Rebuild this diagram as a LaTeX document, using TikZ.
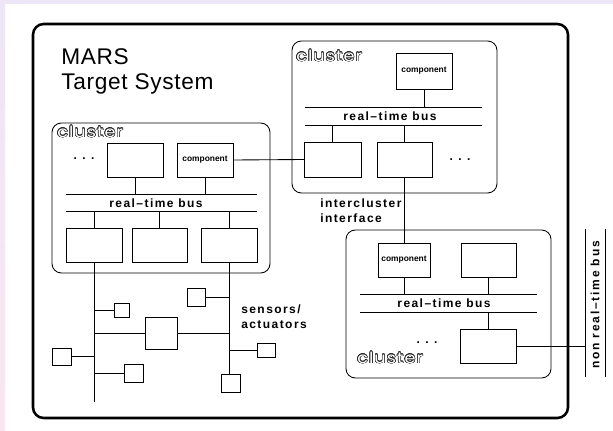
\documentclass[tikz,border=0pt]{standalone}
\usepackage{fontspec}
\setmainfont{Liberation Sans}
\newfontfamily\clfont{Poppins}
\usepackage{graphicx}
\usepackage[copies]{contour}
\contourlength{0.4pt}
\definecolor{lav}{HTML}{ECE6F6}
\definecolor{pnk}{HTML}{FAE6EE}
\tikzset{
  bx/.style n args={2}{draw, line width=0.65pt, minimum width=#1*0.75pt, minimum height=#2*0.75pt, inner sep=0pt, outer sep=0pt},
  ln/.style={line width=0.65pt},
  lbl/.style={font=\fontsize{9}{11}\selectfont\bfseries\addfontfeatures{LetterSpace=12}, inner sep=0pt},
  comp/.style={font=\fontsize{6.3}{7}\selectfont\bfseries},
  dots/.style={font=\fontsize{9}{10}\selectfont\bfseries\addfontfeatures{LetterSpace=45}, inner sep=0pt},
  clus/.style={font=\clfont\fontsize{11.5}{13}\selectfont, inner sep=0pt},
  clrect/.style={draw, line width=0.65pt, rounded corners=7pt},
}
\newcommand{\clustertext}{\scalebox{1.15}[1]{\addfontfeatures{LetterSpace=6}\contour{black!85}{\textcolor{white}{cluster}}}}
\begin{document}
\begin{tikzpicture}[x=0.75pt, y=-0.75pt]
\useasboundingbox (0,0) rectangle (613,431);
% page background margins
\fill[white] (0,0) rectangle (613,431);
\shade[top color=lav, bottom color=pnk] (0,0) rectangle (5,431);
\fill[lav] (0,0) rectangle (613,4);
% outer frame
\draw[line width=1.9pt, rounded corners=8pt] (33,24) rectangle (568,418);
\node[anchor=base west, font=\fontsize{17}{20}\selectfont\addfontfeatures{LetterSpace=3}, inner sep=0pt] (mars) at (61,65) {MARS};
\node[anchor=base west, font=\fontsize{17}{20}\selectfont\addfontfeatures{LetterSpace=3}, inner sep=0pt] (tsys) at (61,90) {Target System};

% ---------------- left cluster
\draw[clrect] (52,123) rectangle (270,273);
\node[clus, anchor=west] (cl1) at (57,132) {\clustertext};
\node[dots] (ld) at (84,159) {...};
\node[bx={56}{34}] (LA) at (135,160) {};
\node[bx={56}{34}, comp] (LC) at (205,160) {component};
\coordinate (l1w) at (66,194); \coordinate (l1e) at (257,194);
\coordinate (l2w) at (66,211); \coordinate (l2e) at (257,211);
\draw[ln] (l1w) -- (l1e);
\draw[ln] (l2w) -- (l2e);
\node[lbl] (lbus) at (156,203) {real--time bus};
\node[bx={56}{34}] (LB1) at (94,245) {};
\node[bx={55}{34}] (LB2) at (159.5,245) {};
\node[bx={56}{34}] (LB3) at (229,245) {};
\draw[ln] (LA.south) -- (LA.south |- l1w);
\draw[ln] (LC.south) -- (LC.south |- l1w);
\draw[ln] (LB1.north) -- (LB1.north |- l2w);
\draw[ln] (LB2.north) -- (LB2.north |- l2w);
\draw[ln] (LB3.north) -- (LB3.north |- l2w);

% ---------------- top cluster
\draw[clrect] (292,41) rectangle (497,193);
\node[clus, anchor=west] (cl2) at (296,56) {\clustertext};
\node[bx={56}{36}, comp] (TC) at (424,71) {component};
\coordinate (t1w) at (305,107); \coordinate (t1e) at (482,107);
\coordinate (t2w) at (305,125); \coordinate (t2e) at (482,125);
\draw[ln] (t1w) -- (t1e);
\draw[ln] (t2w) -- (t2e);
\node[lbl] (tbus) at (390,116) {real--time bus};
\node[bx={57}{35}] (T1) at (332.5,159.5) {};
\node[bx={55}{35}] (T2) at (404.5,159.5) {};
\node[dots] (td) at (460,160) {...};
\draw[ln] (TC.south) -- (TC.south |- t1w);
\draw[ln] (T1.north) -- (T1.north |- t2w);
\draw[ln] (T2.north) -- (T2.north |- t2w);
\draw[ln] (LC.east) -- (T1.west);

% ---------------- bottom cluster
\draw[clrect] (346,230) rectangle (551,378);
\node[bx={52}{34}, comp] (BC) at (404,260) {component};
\node[bx={55}{34}] (B2) at (488.5,260) {};
\coordinate (b1w) at (360,294); \coordinate (b1e) at (537,294);
\coordinate (b2w) at (360,312); \coordinate (b2e) at (537,312);
\draw[ln] (b1w) -- (b1e);
\draw[ln] (b2w) -- (b2e);
\node[lbl] (bbus) at (444,303) {real--time bus};
\node[bx={56}{34}] (B3) at (488,346) {};
\node[dots] (bd) at (427,343) {...};
\node[clus, anchor=west] (cl3) at (357,358) {\clustertext};
\draw[ln] (BC.south) -- (BC.south |- b1w);
\draw[ln] (B2.south) -- (B2.south |- b1w);
\draw[ln] (B3.north) -- (B3.north |- b2w);

% intercluster interface
\draw[ln] (T2.south) -- (T2.south |- BC.north);
\node[lbl, anchor=west, align=left] (ici) at (320,211) {intercluster\\interface};

% non real-time bus
\coordinate (n1t) at (585,229); \coordinate (n1b) at (585,377);
\coordinate (n2t) at (605,229); \coordinate (n2b) at (605,377);
\draw[ln] (n1t) -- (n1b);
\draw[ln] (n2t) -- (n2b);
\draw[ln] (B3.east) -- (B3.east -| n1t);
\node[lbl, rotate=90, font=\fontsize{9}{11}\selectfont\bfseries\addfontfeatures{LetterSpace=15}] (nrt) at (595,305) {non real--time bus};

% ---------------- sensors / actuators
\node[bx={15}{14}] (S1) at (121.5,310) {};
\node[bx={32}{32}] (M) at (161,333) {};
\node[bx={18}{18}] (S2) at (196,297) {};
\node[bx={19}{17}] (S3) at (61.5,356.5) {};
\node[bx={19}{18}] (S4) at (133.5,373) {};
\node[bx={18}{14}] (S5) at (266,350) {};
\node[bx={19}{18}] (S6) at (230.5,383) {};
\coordinate (lend) at (94,402);
\draw[ln] (LB1.south) -- (lend);
\draw[ln] (LB3.south) -- (LB3.south |- S6.north);
\draw[ln] (S1.west) -- (S1.west -| lend);
\draw[ln] (M.west) -- (M.west -| lend);
\draw[ln] (M.east) -- (M.east -| LB3.south);
\draw[ln] (S2.east) -- (S2.east -| LB3.south);
\draw[ln] (S3.east) -- (S3.east -| lend);
\draw[ln] (S4.west) -- (S4.west -| lend);
\draw[ln] (S5.west) -- (S5.west -| LB3.south);
\node[lbl, anchor=west, align=left] (sa) at (241,317) {sensors/\\actuators};
\end{tikzpicture}
\end{document}
